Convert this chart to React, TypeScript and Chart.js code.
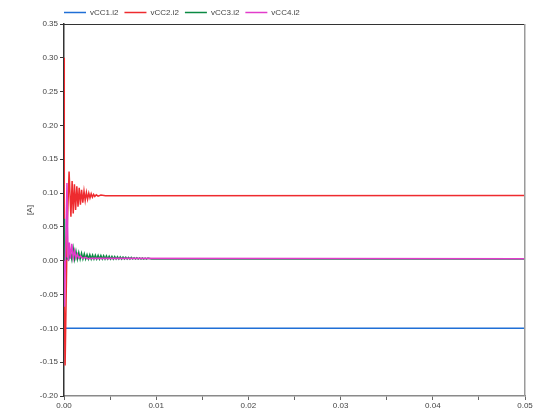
import React, { useEffect, useRef } from "react";
import { Chart, registerables } from "chart.js";

Chart.register(...registerables);

const seriesNames = ["vCC1.i2", "vCC2.i2", "vCC3.i2", "vCC4.i2"];
const seriesColors = ["#1f6fd6", "#ee2b2f", "#0a8a43", "#e23ccb"];

const xTicksMin = 0;
const xTicksMax = 0.05;
const yTicksMin = -0.2;
const yTicksMax = 0.35;

// [time, value]
const vCC1: [number, number][] = [
  [0, -0.1],
  [0.05, -0.1],
];

const vCC2: [number, number][] = [
  [0, 0],
  [0.00002, 0.3],
  [0.00004, -0.065],
  [0.00012, -0.155],
  [0.00035, 0.05],
  [0.00055, 0.132],
  [0.00075, 0.065],
  [0.00088, 0.118],
  [0.001, 0.07],
  [0.00113, 0.113],
  [0.00126, 0.075],
  [0.00139, 0.11],
  [0.00152, 0.08],
  [0.00165, 0.108],
  [0.00178, 0.083],
  [0.00191, 0.105],
  [0.00204, 0.086],
  [0.00217, 0.103],
  [0.0023, 0.089],
  [0.00243, 0.101],
  [0.00256, 0.091],
  [0.00269, 0.1],
  [0.00282, 0.093],
  [0.00295, 0.099],
  [0.00308, 0.094],
  [0.00321, 0.098],
  [0.00334, 0.095],
  [0.0035, 0.0975],
  [0.0037, 0.0955],
  [0.004, 0.097],
  [0.0045, 0.0962],
  [0.05, 0.0965],
];

const vCC3: [number, number][] = [
  [0, 0],
  [0.00002, 0.062],
  [0.00008, 0.0],
  [0.0003, 0.004],
  [0.0005, 0.001],
  [0.0007, 0.012],
  [0.00085, 0.002],
  [0.001, 0.018],
  [0.00115, 0.0025],
  [0.0013, 0.014],
  [0.00145, 0.0025],
  [0.0016, 0.012],
  [0.00175, 0.0025],
  [0.0019, 0.011],
  [0.00205, 0.0025],
  [0.0022, 0.01],
  [0.00235, 0.0025],
  [0.0025, 0.009],
  [0.00265, 0.0025],
  [0.0028, 0.0088],
  [0.00295, 0.0025],
  [0.0031, 0.0085],
  [0.00325, 0.0025],
  [0.0034, 0.0082],
  [0.00355, 0.0025],
  [0.0037, 0.008],
  [0.00385, 0.0025],
  [0.004, 0.0077],
  [0.00415, 0.0025],
  [0.0043, 0.0074],
  [0.00445, 0.0025],
  [0.0046, 0.0071],
  [0.00475, 0.0025],
  [0.0049, 0.0068],
  [0.00505, 0.0025],
  [0.0052, 0.0065],
  [0.00535, 0.0025],
  [0.0055, 0.0062],
  [0.00565, 0.0025],
  [0.0058, 0.006],
  [0.00595, 0.0025],
  [0.0061, 0.0057],
  [0.00625, 0.0025],
  [0.0064, 0.0055],
  [0.00655, 0.0025],
  [0.0067, 0.0052],
  [0.00685, 0.0025],
  [0.007, 0.005],
  [0.00715, 0.0025],
  [0.0073, 0.0048],
  [0.00745, 0.0025],
  [0.0076, 0.0045],
  [0.00775, 0.0025],
  [0.0079, 0.0043],
  [0.00805, 0.0025],
  [0.0082, 0.0042],
  [0.00835, 0.0025],
  [0.0085, 0.004],
  [0.00865, 0.0025],
  [0.0088, 0.0039],
  [0.00895, 0.0025],
  [0.0091, 0.0038],
  [0.0095, 0.0025],
  [0.05, 0.0025],
];

const vCC4: [number, number][] = [
  [0, 0],
  [0.00003, -0.03],
  [0.00007, -0.068],
  [0.00032, 0.115],
  [0.00045, 0.0],
  [0.00058, 0.027],
  [0.0007, 0.003],
  [0.00085, 0.025],
  [0.001, 0.004],
  [0.00115, 0.015],
  [0.0013, 0.004],
  [0.00145, 0.01],
  [0.0016, 0.004],
  [0.0018, 0.007],
  [0.002, 0.0035],
  [0.0023, 0.005],
  [0.0026, 0.003],
  [0.003, 0.0038],
  [0.05, 0.003],
];

const seriesData = [vCC1, vCC2, vCC3, vCC4];
const yAxisTitle = "[A]";

const FONT = "'Liberation Sans', Arial, sans-serif";

const overlayPlugin = {
  id: "overlay",
  afterDraw(chart: any) {
    const { ctx, chartArea } = chart;
    ctx.save();
    // top and right frame
    ctx.lineWidth = 1;
    ctx.strokeStyle = "#333";
    ctx.beginPath();
    ctx.moveTo(chartArea.left, chartArea.top + 0.5);
    ctx.lineTo(chartArea.right, chartArea.top + 0.5);
    ctx.stroke();
    ctx.strokeStyle = "#9a9a9a";
    ctx.lineWidth = 1.5;
    ctx.beginPath();
    ctx.moveTo(chartArea.right - 0.25, chartArea.top);
    ctx.lineTo(chartArea.right - 0.25, chartArea.bottom);
    ctx.stroke();

    // legend
    ctx.font = `8px ${FONT}`;
    ctx.textBaseline = "middle";
    ctx.textAlign = "left";
    let x = chartArea.left;
    const y = 12.5;
    seriesNames.forEach((name, i) => {
      ctx.strokeStyle = seriesColors[i];
      ctx.lineWidth = 1.5;
      ctx.beginPath();
      ctx.moveTo(x, y);
      ctx.lineTo(x + 22, y);
      ctx.stroke();
      ctx.fillStyle = "#444";
      ctx.fillText(name, x + 26, y);
      x += 26 + ctx.measureText(name).width + 6;
    });

    // y title
    ctx.translate(30, (chartArea.top + chartArea.bottom) / 2);
    ctx.rotate(-Math.PI / 2);
    ctx.textAlign = "center";
    ctx.fillStyle = "#444";
    ctx.font = `8px ${FONT}`;
    ctx.fillText(yAxisTitle, 0, 0);
    ctx.restore();
  },
};

export default function App() {
  const ref = useRef<HTMLCanvasElement>(null);

  useEffect(() => {
    if (!ref.current) return;
    const chart = new Chart(ref.current, {
      type: "line",
      data: {
        datasets: seriesData.map((s, i) => ({
          label: seriesNames[i],
          data: s.map(([x, y]) => ({ x, y })),
          borderColor: seriesColors[i],
          backgroundColor: seriesColors[i],
          borderWidth: 1.5,
          pointRadius: 0,
          tension: 0,
          fill: false,
          order: [3, 2, 1, 0][i],
        })),
      },
      options: {
        animation: false,
        responsive: false,
        events: [],
        layout: { padding: { top: 24, right: 17, left: 0, bottom: 0 } },
        plugins: {
          legend: { display: false },
          tooltip: { enabled: false },
        },
        scales: {
          x: {
            type: "linear",
            min: xTicksMin,
            max: xTicksMax,
            border: { color: "#8a8a8a", width: 1.5 },
            grid: {
              drawOnChartArea: false,
              drawTicks: true,
              tickLength: 4,
              color: "#666",
            },
            ticks: {
              stepSize: 0.005,
              autoSkip: false,
              maxRotation: 0,
              padding: 1,
              color: "#444",
              font: { size: 8, family: FONT },
              callback: (v: any) => {
                const n = Number(v);
                const k = n / 0.01;
                return Math.abs(k - Math.round(k)) < 1e-6 ? n.toFixed(2) : "";
              },
            },
            afterFit: (scale: any) => {
              scale.height = 18;
            },
          },
          y: {
            type: "linear",
            min: yTicksMin,
            max: yTicksMax,
            border: { color: "#333", width: 1.5 },
            grid: {
              drawOnChartArea: false,
              drawTicks: true,
              tickLength: 4,
              color: "#333",
            },
            ticks: {
              stepSize: 0.05,
              autoSkip: false,
              padding: 2,
              color: "#444",
              font: { size: 8, family: FONT },
              callback: (v: any) => Number(v).toFixed(2),
            },
            afterFit: (scale: any) => {
              scale.width = 64;
            },
          },
        },
      },
      plugins: [overlayPlugin],
    });
    return () => chart.destroy();
  }, []);

  return (
    <div style={{ position: "absolute", left: 0, top: 0, width: 542, height: 414, background: "#fff" }}>
      <canvas ref={ref} width={542} height={414} />
    </div>
  );
}
